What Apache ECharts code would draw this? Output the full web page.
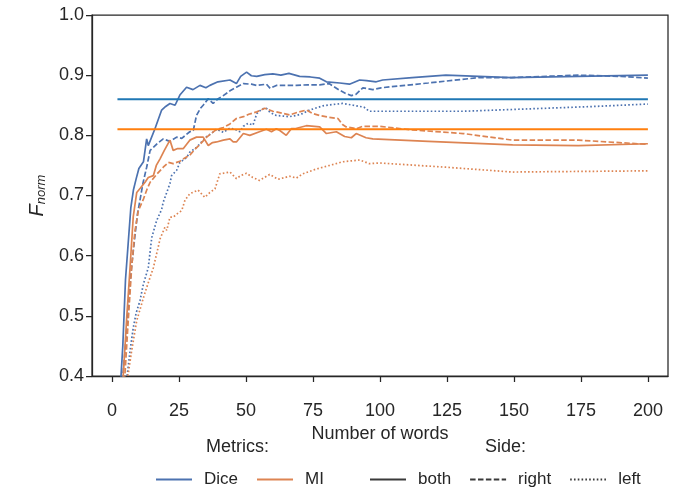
<!DOCTYPE html>
<html>
<head>
<meta charset="utf-8">
<script src="https://cdn.jsdelivr.net/npm/echarts@6/dist/echarts.min.js"></script>
<style>
  html, body { margin: 0; padding: 0; background: #fff; }
  #chart { width: 683px; height: 491px; }
</style>
</head>
<body>
<div id="chart"></div>
<script>
// values: [number of words, F_norm]
const diceBoth = [[2,0.3],[4,0.45],[5,0.56],[6,0.62],[7,0.68],[8,0.71],[9,0.728],[10,0.745],[11.7,0.756],[12.9,0.794],[13.5,0.783],[16,0.811],[18.5,0.842],[20,0.848],[21.6,0.853],[23.5,0.85],[25.3,0.867],[27.8,0.88],[30.2,0.876],[32.8,0.883],[35,0.879],[36.5,0.883],[39.5,0.889],[44,0.892],[46.4,0.886],[48,0.898],[50.2,0.905],[52,0.899],[54,0.898],[57,0.901],[60,0.902],[63,0.9],[66,0.903],[70,0.898],[74,0.897],[77.5,0.895],[80,0.889],[85,0.887],[88.6,0.885],[92.4,0.892],[95,0.891],[98.6,0.889],[101,0.892],[112,0.896],[124.6,0.9],[149,0.896],[174,0.898],[200,0.9]];
const diceRight = [[2,0.3],[4,0.4],[5,0.45],[6,0.508],[7,0.57],[8.6,0.636],[9.5,0.67],[10.4,0.692],[11.5,0.72],[12.9,0.747],[14.2,0.775],[15.4,0.78],[17,0.787],[19.1,0.794],[21.6,0.79],[24.1,0.797],[26,0.795],[29,0.806],[30.3,0.808],[31.5,0.833],[33,0.845],[34,0.85],[35.9,0.861],[37.7,0.853],[39.6,0.861],[41.5,0.866],[44,0.874],[46.4,0.88],[49,0.886],[52,0.885],[54,0.883],[57.6,0.885],[59,0.878],[61.3,0.883],[63.8,0.883],[68.8,0.883],[73,0.884],[77.5,0.884],[81,0.886],[84.9,0.875],[87,0.87],[89.3,0.866],[91,0.868],[93.6,0.879],[97.3,0.876],[100.4,0.879],[118,0.887],[137,0.896],[149,0.896],[174,0.9],[190,0.898],[200,0.895]];
const diceLeft = [[3,0.3],[5.7,0.403],[6.7,0.442],[7.9,0.48],[9,0.505],[10.4,0.525],[11.7,0.553],[13.5,0.58],[14.8,0.63],[16.6,0.658],[18.5,0.677],[19.1,0.689],[20.4,0.705],[21.6,0.72],[22.2,0.733],[24.1,0.742],[25.3,0.755],[27.8,0.763],[29,0.772],[31.5,0.78],[32.8,0.786],[35.3,0.798],[37,0.803],[39,0.81],[41.5,0.805],[44,0.812],[46,0.81],[47.7,0.806],[49,0.815],[50.8,0.82],[52.6,0.817],[54,0.836],[56,0.844],[57.6,0.845],[59,0.838],[61.3,0.833],[64,0.832],[66,0.831],[68.8,0.833],[71,0.836],[73.7,0.842],[78.7,0.849],[82,0.851],[86,0.853],[90,0.85],[92.4,0.848],[94,0.847],[96,0.84],[131,0.84],[155.7,0.844],[180,0.848],[200,0.852]];
const miBoth = [[2,0.3],[4.2,0.403],[5.5,0.5],[6.7,0.58],[7.9,0.665],[9.2,0.705],[10.5,0.712],[12.3,0.722],[13.5,0.73],[15.4,0.733],[16.5,0.75],[17.9,0.761],[19.5,0.775],[21.6,0.792],[22.8,0.775],[24.5,0.778],[26.6,0.778],[29,0.792],[31.5,0.797],[34,0.797],[35.9,0.783],[37.5,0.788],[39,0.789],[41.5,0.792],[44,0.794],[45.2,0.789],[46.4,0.789],[49,0.803],[51.4,0.8],[55,0.806],[57.6,0.81],[59.5,0.806],[61.3,0.811],[62.6,0.808],[65,0.8],[66.9,0.811],[68.2,0.811],[72.5,0.816],[77.5,0.814],[80,0.803],[83.7,0.806],[86.8,0.798],[89.3,0.796],[91.1,0.803],[94.8,0.796],[97.3,0.794],[118,0.79],[149.5,0.784],[174,0.783],[200,0.786]];
const miRight = [[2,0.3],[4.8,0.403],[6,0.49],[7.3,0.58],[8.5,0.64],[9.8,0.675],[11.7,0.694],[13,0.71],[14.2,0.722],[16.6,0.735],[19.1,0.747],[21,0.755],[22.8,0.753],[25.3,0.757],[27,0.762],[29,0.767],[31,0.777],[32.8,0.785],[35.3,0.797],[37,0.803],[39,0.81],[41.5,0.813],[44,0.819],[46.4,0.828],[49,0.831],[51,0.835],[54,0.839],[57,0.845],[60,0.84],[61.3,0.839],[66.3,0.834],[69,0.838],[72.5,0.842],[75,0.836],[77.5,0.833],[81,0.83],[84.3,0.828],[86,0.818],[87.4,0.814],[91.1,0.811],[93.6,0.815],[99.8,0.815],[112,0.809],[131,0.803],[149.5,0.792],[174,0.792],[200,0.785]];
const miLeft = [[3,0.3],[6,0.403],[7.3,0.442],[9.2,0.492],[11.7,0.53],[12.9,0.547],[15.4,0.58],[17.2,0.614],[17.9,0.628],[19.7,0.647],[20.4,0.642],[21.6,0.664],[22.8,0.664],[24.1,0.669],[26,0.675],[27.2,0.692],[29,0.703],[32.1,0.709],[34.6,0.697],[36.5,0.705],[38.4,0.711],[40.2,0.736],[44,0.739],[46.4,0.728],[48,0.733],[50.2,0.737],[52.5,0.73],[55,0.725],[58.8,0.735],[62,0.727],[66.3,0.732],[68.8,0.729],[71.2,0.736],[76.2,0.744],[81.2,0.75],[86,0.756],[92.4,0.759],[96,0.753],[100,0.754],[124.6,0.747],[149.5,0.739],[174,0.74],[200,0.741]];

// reference levels
const diceLevel = [[2,0.86],[200,0.86]];
const miLevel = [[2,0.81],[200,0.81]];

const xTicks = [0, 25, 50, 75, 100, 125, 150, 175, 200];
const metricNames = ['Dice', 'MI'];
const sideNames = ['both', 'right', 'left'];

const BLUE = '#4c72b0';
const ORANGE = '#dd8452';
const INK = '#262626';
const DASH = [5.5, 2.4];
const DOT = [1.6, 2.2];
const FONT = 'Liberation Sans, Arial, sans-serif';

const lineSeries = (name, data, color, type, width) => ({
  name: name,
  type: 'line',
  data: data,
  showSymbol: false,
  symbol: 'none',
  clip: true,
  silent: true,
  lineStyle: { color: color, width: width || 1.7, type: type || 'solid' },
  itemStyle: { color: color }
});

const chart = echarts.init(document.getElementById('chart'));

const legendBase = {
  itemWidth: 36, itemHeight: 14, itemGap: 18,
  itemStyle: { opacity: 0 },
  textStyle: { fontSize: 17, color: INK, fontFamily: FONT, padding: [0, 0, 0, 7] }
};

const option = {
  animation: false,
  backgroundColor: '#fff',
  textStyle: { fontFamily: FONT, color: INK },
  grid: {
    left: 92, right: 15, top: 15, bottom: 115,
    show: true, borderColor: INK, borderWidth: 1.25, backgroundColor: 'transparent'
  },
  xAxis: {
    type: 'value',
    min: -7.5,
    max: 207.5,
    name: 'Number of words',
    nameLocation: 'middle',
    nameGap: 48,
    nameTextStyle: { fontSize: 18, color: INK },
    axisLine: { show: true, onZero: false, lineStyle: { color: INK, width: 1.25 } },
    axisTick: { show: true, length: 6, lineStyle: { color: INK, width: 1.25 }, customValues: xTicks },
    axisLabel: { fontSize: 18, color: INK, margin: 26, customValues: xTicks },
    splitLine: { show: false }
  },
  yAxis: {
    type: 'value',
    min: 0.4,
    max: 1.0,
    interval: 0.1,
    name: '{f|F}{s|norm}',
    nameLocation: 'middle',
    nameGap: 42,
    nameTextStyle: {
      color: INK,
      rich: {
        f: { fontSize: 20, fontStyle: 'italic', color: INK },
        s: { fontSize: 13, fontStyle: 'italic', color: INK, padding: [9, 0, 0, 0] }
      }
    },
    axisLine: { show: true, onZero: false, lineStyle: { color: INK, width: 1.25 } },
    axisTick: { show: true, length: 6, lineStyle: { color: INK, width: 1.25 } },
    axisLabel: { fontSize: 18, color: INK, margin: 8, formatter: v => v.toFixed(1) },
    splitLine: { show: false }
  },
  legend: [
    Object.assign({ data: metricNames, left: 150, top: 466 }, legendBase),
    Object.assign({ data: sideNames, left: 364, top: 466 }, legendBase)
  ],
  graphic: [
    { type: 'text', left: 206, top: 438, style: { text: 'Metrics:', fontSize: 18, fill: INK, fontFamily: FONT } },
    { type: 'text', left: 485, top: 438, style: { text: 'Side:', fontSize: 18, fill: INK, fontFamily: FONT } }
  ],
  series: [
    lineSeries('Dice both', diceBoth, BLUE, 'solid'),
    lineSeries('Dice right', diceRight, BLUE, DASH),
    lineSeries('Dice left', diceLeft, BLUE, DOT),
    lineSeries('MI both', miBoth, ORANGE, 'solid'),
    lineSeries('MI right', miRight, ORANGE, DASH),
    lineSeries('MI left', miLeft, ORANGE, DOT),
    lineSeries('Dice level', diceLevel, '#1f77b4', 'solid', 2),
    lineSeries('MI level', miLevel, '#ff7f0e', 'solid', 2),
    // legend-only entries
    lineSeries('Dice', [], BLUE, 'solid', 2),
    lineSeries('MI', [], ORANGE, 'solid', 2),
    lineSeries('both', [], '#3a3a3a', 'solid', 2),
    lineSeries('right', [], '#3a3a3a', DASH, 2),
    lineSeries('left', [], '#3a3a3a', DOT, 2)
  ]
};

chart.setOption(option);
window.addEventListener('resize', () => chart.resize());
</script>
</body>
</html>
